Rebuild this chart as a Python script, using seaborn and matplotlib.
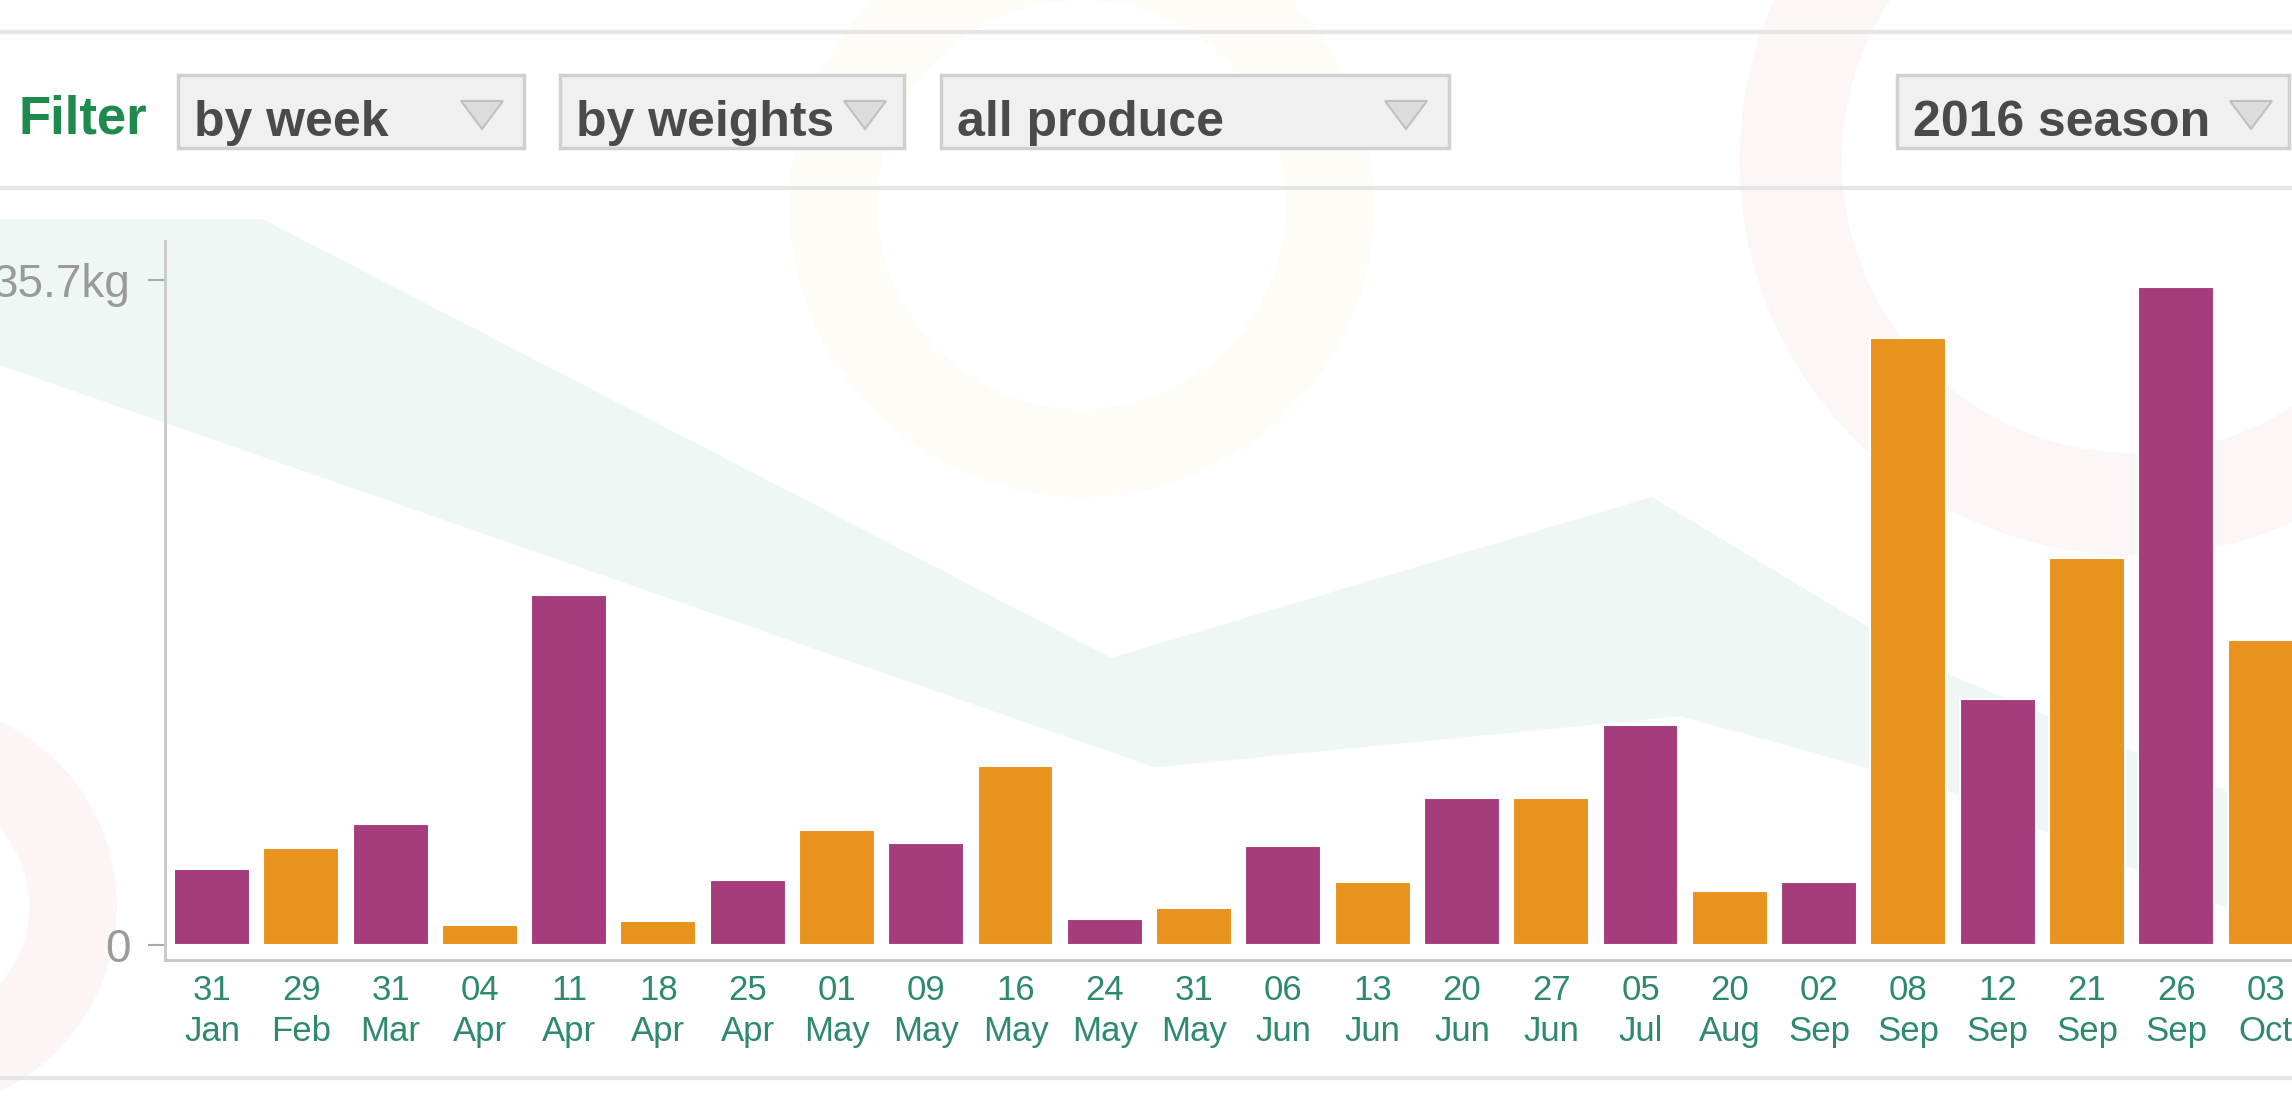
import matplotlib
matplotlib.use("Agg")
import matplotlib.pyplot as plt
import seaborn as sns
import pandas as pd
from matplotlib.patches import Rectangle, Polygon, Wedge

# weekly harvest weights, 2016 season
days = ["31", "29", "31", "04", "11", "18", "25", "01", "09", "16", "24", "31",
        "06", "13", "20", "27", "05", "20", "02", "08", "12", "21", "26", "03"]
months = ["Jan", "Feb", "Mar", "Apr", "Apr", "Apr", "Apr", "May", "May", "May", "May", "May",
          "Jun", "Jun", "Jun", "Jun", "Jul", "Aug", "Sep", "Sep", "Sep", "Sep", "Sep", "Oct"]
kg = [4.1, 5.2, 6.5, 1.1, 18.8, 1.3, 3.5, 6.2, 5.5, 9.6, 1.4, 2.0,
      5.3, 3.4, 7.9, 7.9, 11.8, 2.9, 3.4, 32.6, 13.2, 20.8, 35.3, 16.4]
purple, orange = "#a53c7c", "#e8931e"
bar_colors = [purple if i % 2 == 0 else orange for i in range(len(kg))]

labels = [f"{d}\n{m}" for d, m in zip(days, months)]
df = pd.DataFrame({"week": labels, "kg": kg})

sns.set_style("white")
plt.rcParams["font.family"] = ["Liberation Sans", "DejaVu Sans"]

W, H = 2292, 1103
fig = plt.figure(figsize=(W / 100, H / 100), dpi=100)
fig.patch.set_facecolor("white")

# page background / filter bar drawn in pixel coords
bg = fig.add_axes([0, 0, 1, 1], zorder=0)
bg.set_xlim(0, W)
bg.set_ylim(H, 0)
bg.axis("off")

s = W / 1568
teal = [(0, 150), (180, 150), (760, 450), (1130, 340), (1330, 460), (1568, 560),
        (1568, 640), (1330, 540), (1150, 490), (790, 525), (0, 250)]
bg.add_patch(Polygon([(x * s, y * s) for x, y in teal], closed=True,
                     facecolor="#eff7f4", edgecolor="none"))
bg.add_patch(Wedge((1460 * s, 110 * s), 270 * s, 0, 360, width=70 * s,
                   facecolor="#fdf6f6", edgecolor="none"))
bg.add_patch(Wedge((740 * s, 140 * s), 200 * s, 0, 360, width=60 * s,
                   facecolor="#fefcf6", edgecolor="none"))
bg.add_patch(Wedge((-60 * s, 620 * s), 140 * s, 0, 360, width=60 * s,
                   facecolor="#fdf5f5", edgecolor="none"))

for y in [32, 188, 1078]:
    bg.plot([0, W], [y, y], color="#e6e6e6", lw=3)

bg.text(18, 134, "Filter", fontsize=38, fontweight="bold", color="#1d8a4e", va="baseline")

boxes = [(178, 524, "by week", 482), (560, 904, "by weights", 865),
         (941, 1449, "all produce", 1406), (1897, 2289, "2016 season", 2251)]
for x0, x1, txt, tx in boxes:
    bg.add_patch(Rectangle((x0, 75), x1 - x0, 73, facecolor="#f0f0f0",
                           edgecolor="#d0d0d0", lw=2.5))
    bg.text(x0 + 16, 136, txt, fontsize=36, fontweight="bold", color="#4a4a4a",
            va="baseline")
    bg.add_patch(Polygon([(tx - 21, 101), (tx + 21, 101), (tx, 129)], closed=True,
                         facecolor="#dcdcdc", edgecolor="#c0c0c0", lw=1.5))

# chart
ax = fig.add_axes([0.072, 0.1296, 0.948, 0.652], zorder=1)
ax.set_facecolor("none")
sns.barplot(data=df, x="week", y="kg", hue="week", palette=bar_colors, saturation=1,
            width=0.85, legend=False, edgecolor="white", linewidth=1.5, ax=ax)

ax.set_xlim(-0.526, 23.81)
ax.set_ylim(-0.8, 37.8)
ax.set_yticks([0, 35.7])
ax.set_yticklabels(["0", "35.7kg"])
ax.set_xlabel("")
ax.set_ylabel("")

ax.tick_params(axis="y", left=True, length=12, width=1.5, color="#aaaaaa", pad=13,
               labelsize=33, labelcolor="#9a9a9a")
ax.tick_params(axis="x", length=0, pad=10, labelsize=25, labelcolor="#2e8a68")
for lbl in ax.get_xticklabels():
    lbl.set_linespacing(1.3)

sns.despine(ax=ax)
for side in ["left", "bottom"]:
    ax.spines[side].set_color("#c8c8c8")
    ax.spines[side].set_linewidth(2)

fig.savefig("out.png", dpi=100)
